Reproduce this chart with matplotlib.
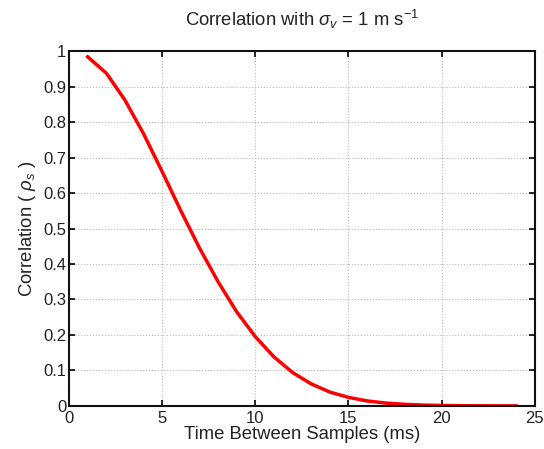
import numpy as np
import matplotlib.pyplot as plt

plt.rcParams['font.family'] = ['Liberation Sans', 'DejaVu Sans']
plt.rcParams['mathtext.fontset'] = 'custom'
plt.rcParams['mathtext.it'] = 'Liberation Sans:italic'
plt.rcParams['mathtext.rm'] = 'Liberation Sans'

# time between samples (ms) and correlation
lag_ms = [1, 2, 3, 4, 5, 6, 7, 8, 9, 10, 11, 12,
          13, 14, 15, 16, 17, 18, 19, 20, 21, 22, 23, 24]
rho = [0.984, 0.938, 0.862, 0.767, 0.66, 0.55, 0.445, 0.35, 0.265, 0.195, 0.138, 0.094,
       0.062, 0.039, 0.024, 0.014, 0.008, 0.0045, 0.0024, 0.0012, 0.0006, 0.0003, 0.0001, 0.0001]

xticks = [0, 5, 10, 15, 20, 25]
yticks = np.round(np.arange(0, 1.01, 0.1), 1)
ytick_labels = ['0'] + ['%.1f' % v for v in yticks[1:-1]] + ['1']

txt = '#222222'

fig = plt.figure(figsize=(5.44, 4.49), dpi=100)
ax = fig.add_axes([0.127, 0.096, 0.856, 0.79])

ax.plot(lag_ms, rho, color='#ff0000', linewidth=2.5)

ax.set_xlim(0, 25)
ax.set_ylim(0, 1)
ax.set_xticks(xticks)
ax.set_yticks(yticks)
ax.set_yticklabels(ytick_labels)
ax.grid(True, linestyle=':', color='#b8b8b8', linewidth=0.8)
ax.tick_params(direction='in', top=True, right=True, labelsize=12, length=4, width=1.2,
               labelcolor=txt)
ax.tick_params(axis='x', pad=4)
ax.tick_params(axis='y', pad=2)
for s in ax.spines.values():
    s.set_linewidth(1.5)
    s.set_color('#111111')

ax.set_xlabel('Time Between Samples (ms)', fontsize=13.3, labelpad=0, color=txt)
ax.set_ylabel(r'Correlation ( $\rho_s$ )', fontsize=13.3, labelpad=4, color=txt)
ax.set_title(r'Correlation with $\sigma_v$ = 1 m s$^{-1}$', fontsize=13.3, pad=18, color=txt)

fig.savefig('out.png', dpi=100)
